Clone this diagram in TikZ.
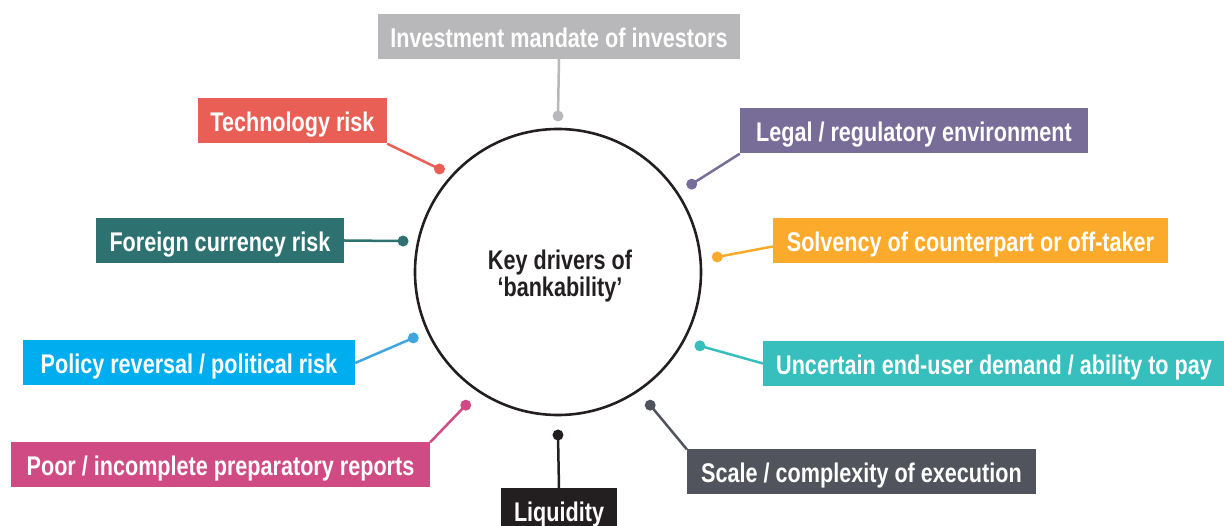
\documentclass[tikz,border=0pt]{standalone}
\usepackage{fontspec}
\setmainfont{Liberation Sans}[FakeStretch=0.8]

\definecolor{invgray}{HTML}{B8B8BA}
\definecolor{techred}{HTML}{E95F55}
\definecolor{legalpurple}{HTML}{786C98}
\definecolor{fxteal}{HTML}{2D7270}
\definecolor{solvorange}{HTML}{FBAA2C}
\definecolor{policyblue}{HTML}{00AEEF}
\definecolor{policyline}{HTML}{41A6E0}
\definecolor{demandturq}{HTML}{36BFBC}
\definecolor{reportpink}{HTML}{D04A84}
\definecolor{liqblack}{HTML}{231F20}
\definecolor{scalegray}{HTML}{51545C}

\tikzstyle{hubnode} = [circle, draw=liqblack, line width=2.6pt, minimum size=286pt, text=liqblack]
\tikzstyle{labelnode} = [rectangle, text=white, minimum height=45pt, inner sep=0pt, text height=22pt, text depth=0pt]
\tikzstyle{dotnode} = [circle, inner sep=0pt, minimum size=11pt]
\tikzstyle{linkline} = [line width=2.5pt]

\begin{document}
\begin{tikzpicture}[x=1pt, y=1pt, align=center, font=\bfseries\fontsize{27}{27}\selectfont]
        \useasboundingbox (-558,-254) rectangle (666,272);

        \node [hubnode] (hub) at (0,0) {};
        \node [text=liqblack] (title) at (2,-4.5) {Key drivers of\\`bankability'};

        \node [labelnode, fill=invgray, minimum width=362pt] (inv) at (1,235.5) {Investment mandate of investors};
        \node [labelnode, fill=techred, minimum width=189pt] (tech) at (-265.5,151) {Technology risk};
        \node [labelnode, fill=legalpurple, minimum width=348pt] (legal) at (356,141) {Legal / regulatory environment};
        \node [labelnode, fill=fxteal, minimum width=248pt] (fx) at (-338,31.5) {Foreign currency risk};
        \node [labelnode, fill=solvorange, minimum width=395pt] (solv) at (412.5,31.5) {Solvency of counterpart or off-taker};
        \node [labelnode, fill=policyblue, minimum width=332pt] (policy) at (-369,-91) {Policy reversal / political risk};
        \node [labelnode, fill=demandturq, anchor=west, inner xsep=13pt] (demand) at (205,-91.5) {Uncertain end-user demand / ability to pay};
        \node [labelnode, fill=reportpink, minimum width=419pt] (report) at (-337.5,-193) {Poor / incomplete preparatory reports};
        \node [labelnode, fill=liqblack, minimum width=116pt] (liq) at (1,-238.5) {Liquidity};
        \node [labelnode, fill=scalegray, minimum width=349pt] (scale) at (303.5,-200) {Scale / complexity of execution};

        \node [dotnode, fill=invgray] (d1) at (90:156) {};
        \node [dotnode, fill=techred] (d2) at (139:157) {};
        \node [dotnode, fill=legalpurple] (d3) at (33.3:160) {};
        \node [dotnode, fill=fxteal] (d4) at (168.7:158) {};
        \node [dotnode, fill=solvorange] (d5) at (5.4:160) {};
        \node [dotnode, fill=policyline] (d6) at (204.5:159) {};
        \node [dotnode, fill=demandturq] (d7) at (-27.5:160) {};
        \node [dotnode, fill=reportpink] (d8) at (235.3:162) {};
        \node [dotnode, fill=liqblack] (d9) at (270:163) {};
        \node [dotnode, fill=scalegray] (d10) at (-55.3:162) {};

        \draw [linkline, invgray] (inv.south) -- (d1.center);
        \draw [linkline, techred] (tech.south east) -- (d2.center);
        \draw [linkline, legalpurple] (legal.south west) -- (d3.center);
        \draw [linkline, fxteal] (fx.east) -- (d4.center);
        \draw [linkline, solvorange] ([yshift=-6pt]solv.west) -- (d5.center);
        \draw [linkline, policyline] (policy.east) -- (d6.center);
        \draw [linkline, demandturq] (demand.west) -- (d7.center);
        \draw [linkline, reportpink] (report.north east) -- (d8.center);
        \draw [linkline, liqblack] (liq.north) -- (d9.center);
        \draw [linkline, scalegray] (scale.north west) -- (d10.center);

    \end{tikzpicture}
\end{document}
